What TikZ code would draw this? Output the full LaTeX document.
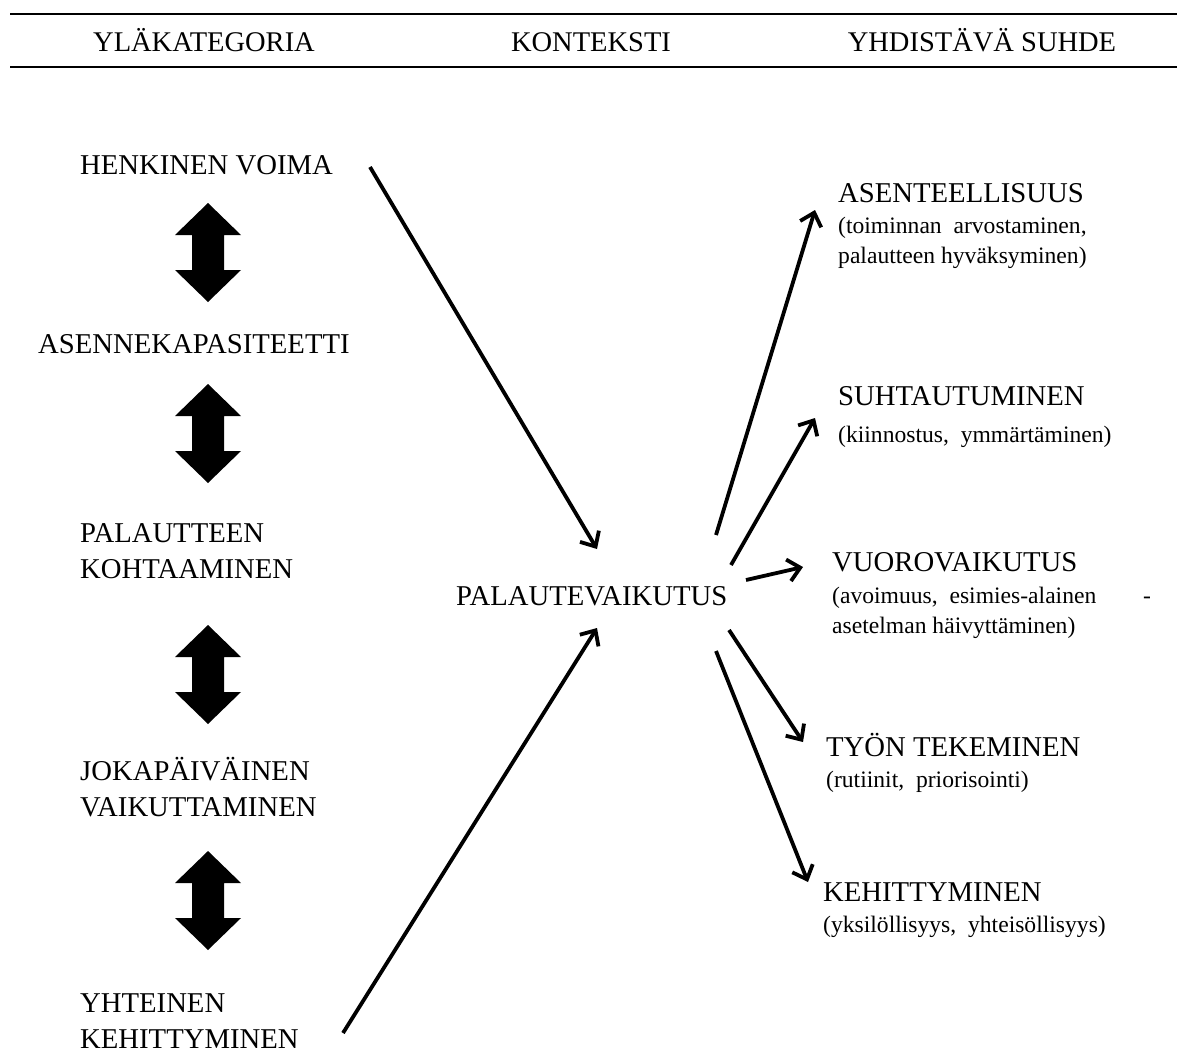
\documentclass[tikz,border=0pt]{standalone}
\usepackage{fontspec}
\setmainfont{Liberation Serif}
\usetikzlibrary{arrows.meta}
\begin{document}
\begin{tikzpicture}[x=1pt,y=-1pt,
  lbl/.style={anchor=base west, inner sep=0pt, font=\fontsize{28.7}{36}\selectfont, align=left},
  head/.style={anchor=base, inner sep=0pt, font=\fontsize{28.5}{32}\selectfont},
  detail/.style={anchor=base west, inner sep=0pt, font=\fontsize{23.6}{29.5}\selectfont, align=left},
  conn/.style={line width=3.8pt, -{Straight Barb[length=12pt,width=22pt]}},
  rule/.style={line width=2pt},
  dblarrow/.pic={
    \fill[black] (0,0) -- (33,32) -- (16,32) -- (16,67) -- (33,67) -- (0,99)
      -- (-33,67) -- (-16,67) -- (-16,32) -- (-33,32) -- cycle;
  }
]
\useasboundingbox (0,0) rectangle (1182,1052);

% table header
\draw[rule] (10,14) coordinate (rl1) -- (1177,14) coordinate (rr1);
\draw[rule] (10,67) coordinate (rl2) -- (1177,67) coordinate (rr2);
\node[head] (h1) at (204,51) {YLÄKATEGORIA};
\node[head] (h2) at (591,51) {KONTEKSTI};
\node[head] (h3) at (982,51) {YHDISTÄVÄ SUHDE};

% upper categories (multi-line nodes are placed by their last baseline)
\node[lbl] (hv) at (80,174) {HENKINEN VOIMA};
\node[lbl] (ak) at (38,353) {ASENNEKAPASITEETTI};
\node[lbl] (pk) at (80,578) {PALAUTTEEN\\KOHTAAMINEN};
\node[lbl] (jv) at (80,816) {JOKAPÄIVÄINEN\\VAIKUTTAMINEN};
\node[lbl] (yk) at (80,1048) {YHTEINEN\\KEHITTYMINEN};

\pic at (208,203) {dblarrow};
\pic at (208,384) {dblarrow};
\pic at (208,625) {dblarrow};
\pic at (208,851) {dblarrow};

% context
\node[lbl] (pv) at (456,605) {PALAUTEVAIKUTUS};

% connecting relations
\node[lbl] (as) at (838,202) {ASENTEELLISUUS};
\node[detail] (asd) at (838,263) {(toiminnan\ \ arvostaminen,\\palautteen hyväksyminen)};
\node[lbl] (su) at (838,405) {SUHTAUTUMINEN};
\node[detail] (sud) at (838,442) {(kiinnostus,\ \ ymmärtäminen)};
\node[lbl] (vu) at (832,571) {VUOROVAIKUTUS};
\node[detail] (vud) at (832,633) {(avoimuus,\ \ esimies-alainen\\asetelman häivyttäminen)};
\node[detail] (vudash) at (1143,603) {-};
\node[lbl] (ty) at (826,756) {TYÖN TEKEMINEN};
\node[detail] (tyd) at (826,787) {(rutiinit,\ \ priorisointi)};
\node[lbl] (ke) at (823,901) {KEHITTYMINEN};
\node[detail] (ked) at (823,932) {(yksilöllisyys,\ \ yhteisöllisyys)};

% connector end points
\coordinate (hv-o) at (370,167);
\coordinate (yk-o) at (343,1033);
\coordinate (pv-n) at (597,549);
\coordinate (pv-s) at (597,628);
\coordinate (pv-1) at (716,535);
\coordinate (pv-2) at (731,565);
\coordinate (pv-3) at (746,580);
\coordinate (pv-4) at (729,630);
\coordinate (pv-5) at (716,651);
\coordinate (as-i) at (815,210);
\coordinate (su-i) at (815,418);
\coordinate (vu-i) at (803,567);
\coordinate (ty-i) at (803,742);
\coordinate (ke-i) at (808,882);

\draw[conn] (hv-o) -- (pv-n);
\draw[conn] (yk-o) -- (pv-s);
\draw[conn] (pv-1) -- (as-i);
\draw[conn] (pv-2) -- (su-i);
\draw[conn] (pv-3) -- (vu-i);
\draw[conn] (pv-4) -- (ty-i);
\draw[conn] (pv-5) -- (ke-i);
\end{tikzpicture}
\end{document}
